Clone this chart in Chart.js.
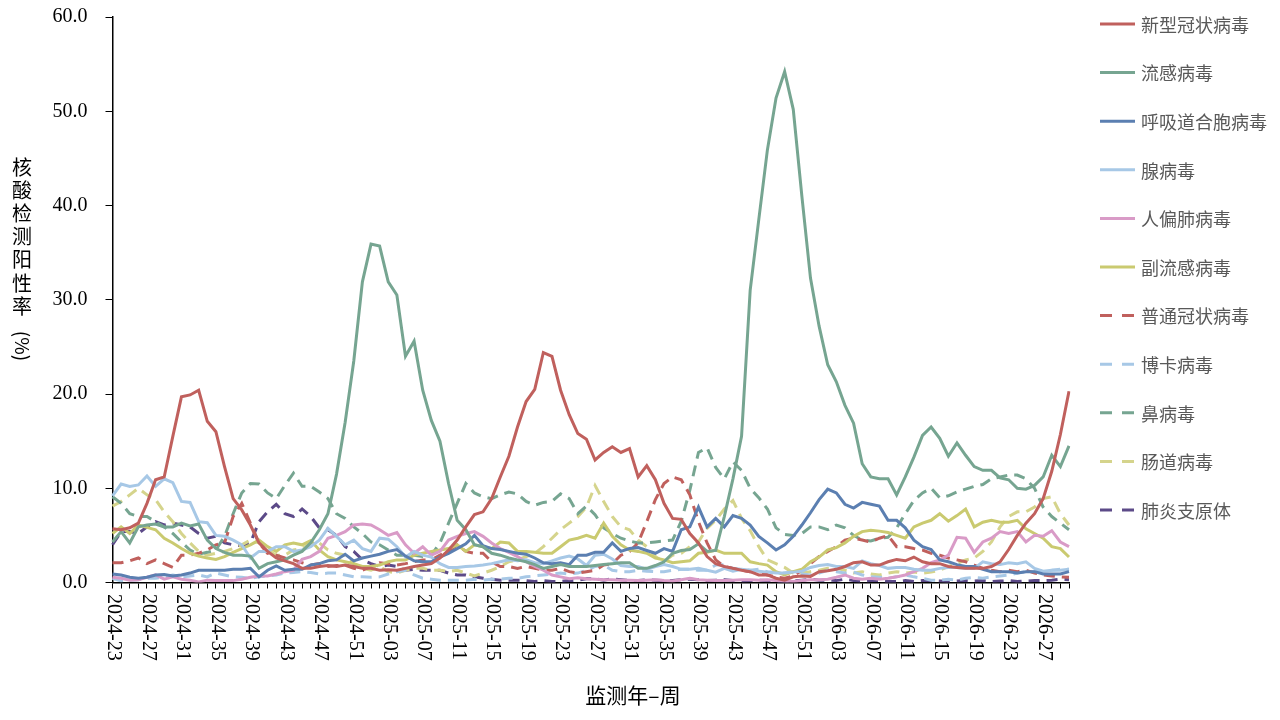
<!DOCTYPE html>
<html>
<head>
<meta charset="utf-8">
<script src="https://cdn.jsdelivr.net/npm/chart.js@4.4.1/dist/chart.umd.min.js"></script>
<style>
html, body { margin: 0; padding: 0; background: #fff; }
#wrap { width: 1280px; height: 720px; position: relative; }
</style>
</head>
<body>
<div id="wrap"><canvas id="chart1"></canvas></div>
<script>
// week labels (year-week)
var weeks = [
  '2024-23','2024-24','2024-25','2024-26','2024-27','2024-28','2024-29','2024-30','2024-31','2024-32',
  '2024-33','2024-34','2024-35','2024-36','2024-37','2024-38','2024-39','2024-40','2024-41','2024-42',
  '2024-43','2024-44','2024-45','2024-46','2024-47','2024-48','2024-49','2024-50','2024-51','2024-52',
  '2025-01','2025-02','2025-03','2025-04','2025-05','2025-06','2025-07','2025-08','2025-09','2025-10',
  '2025-11','2025-12','2025-13','2025-14','2025-15','2025-16','2025-17','2025-18','2025-19','2025-20',
  '2025-21','2025-22','2025-23','2025-24','2025-25','2025-26','2025-27','2025-28','2025-29','2025-30',
  '2025-31','2025-32','2025-33','2025-34','2025-35','2025-36','2025-37','2025-38','2025-39','2025-40',
  '2025-41','2025-42','2025-43','2025-44','2025-45','2025-46','2025-47','2025-48','2025-49','2025-50',
  '2025-51','2025-52','2026-01','2026-02','2026-03','2026-04','2026-05','2026-06','2026-07','2026-08',
  '2026-09','2026-10','2026-11','2026-12','2026-13','2026-14','2026-15','2026-16','2026-17','2026-18',
  '2026-19','2026-20','2026-21','2026-22','2026-23','2026-24','2026-25','2026-26','2026-27','2026-28',
  '2026-29','2026-30'
];

var covid = [5.7,5.6,5.8,6.3,8.4,10.9,11.2,15.5,19.7,19.9,
  20.4,17.1,16.0,12.3,8.9,7.7,6.1,4.2,3.3,2.6,
  2.3,2.0,1.5,1.5,1.7,1.8,1.7,1.85,1.7,1.5,
  1.5,1.3,1.35,1.3,1.5,1.7,1.85,2.0,2.6,3.45,
  4.5,5.9,7.2,7.5,8.9,11.2,13.4,16.5,19.2,20.5,
  24.4,24.0,20.4,17.8,15.8,15.2,13.0,13.8,14.4,13.8,
  14.2,11.2,12.4,10.9,8.4,6.8,6.7,5.2,4.2,2.75,
  2.0,1.7,1.5,1.3,1.15,0.8,0.8,0.45,0.25,0.6,
  0.7,0.65,1.15,1.25,1.4,1.7,2.1,2.2,1.85,1.85,
  2.2,2.45,2.3,2.7,2.2,2.0,2.0,1.7,1.6,1.5,
  1.5,1.5,1.7,2.2,3.5,5.0,6.3,7.3,8.9,11.8,
  15.7,20.3];

var flu = [4.3,5.4,4.2,5.9,6.1,6.2,5.9,5.9,6.3,6.0,
  6.2,4.5,3.6,3.2,2.9,2.9,2.8,1.5,2.0,2.2,
  2.4,2.9,3.3,4.2,5.6,7.3,11.5,17.0,23.5,31.9,
  35.9,35.7,31.9,30.5,24.0,25.6,20.4,17.2,15.0,10.5,
  6.6,5.6,4.0,3.8,3.1,2.9,2.6,2.4,2.2,1.9,
  1.5,1.7,1.9,1.7,1.7,1.7,1.8,1.9,2.0,2.1,
  2.1,1.5,1.5,1.8,2.2,3.1,3.4,3.5,4.1,3.3,
  3.4,7.0,11.0,15.5,31.0,38.5,45.9,51.4,54.2,50.2,
  41.0,32.3,27.2,23.1,21.3,18.8,16.9,12.6,11.2,11.0,
  11.0,9.3,11.2,13.3,15.6,16.5,15.3,13.4,14.8,13.5,
  12.3,11.9,11.9,11.1,10.9,10.0,9.9,10.3,11.2,13.5,
  12.3,14.5];

var rsv = [0.9,0.8,0.55,0.45,0.55,0.8,0.85,0.7,0.8,1.0,
  1.3,1.3,1.3,1.3,1.4,1.4,1.5,0.6,1.3,1.75,
  1.3,1.4,1.4,1.85,2.0,2.3,2.4,3.0,2.3,2.6,
  2.8,3.0,3.3,3.5,2.8,2.3,2.2,2.2,2.7,3.1,
  3.6,4.1,5.0,3.9,3.6,3.5,3.3,3.1,3.0,2.6,
  2.1,2.0,2.1,1.9,2.9,2.9,3.2,3.2,4.2,3.3,
  3.6,3.7,3.4,3.1,3.6,3.3,5.6,5.9,8.0,5.9,
  6.8,5.9,7.1,6.8,6.1,4.9,4.2,3.45,4.0,4.9,
  6.1,7.4,8.8,9.9,9.5,8.3,7.9,8.5,8.3,8.1,
  6.6,6.6,5.8,4.5,3.8,3.5,2.4,2.2,1.9,1.7,
  1.7,1.4,1.15,1.15,1.15,1.0,1.15,1.15,0.9,0.9,
  0.9,1.15];

var adeno = [9.2,10.45,10.2,10.35,11.3,10.2,11.0,10.6,8.6,8.5,
  6.45,6.35,5.0,4.9,4.5,4.0,2.6,3.3,3.3,3.8,
  3.8,3.3,3.45,3.8,4.5,5.75,4.9,4.0,4.5,3.6,
  3.3,4.7,4.6,3.8,2.7,3.3,2.9,2.7,2.0,1.6,
  1.6,1.7,1.75,1.85,2.0,2.2,2.4,2.3,2.4,2.1,
  2.0,2.3,2.6,2.8,2.5,1.8,2.9,3.0,2.5,1.8,
  1.7,1.7,1.4,1.7,1.9,1.7,1.4,1.4,1.5,1.3,
  1.1,1.5,1.2,1.4,1.3,1.2,1.1,1.0,1.0,1.1,
  1.2,1.6,1.8,1.9,1.7,1.7,1.5,2.3,2.0,1.8,
  1.5,1.6,1.6,1.4,1.3,1.3,1.5,1.6,1.6,1.5,
  1.5,2.2,2.0,1.9,2.1,2.0,2.2,1.5,1.2,1.3,
  1.3,1.4];

var hmpv = [0.55,0.45,0.25,0.3,0.55,0.8,0.35,0.6,0.35,0.25,
  0.05,0.25,0.2,0.2,0.2,0.35,0.55,0.7,0.7,0.9,
  1.15,1.3,2.45,2.75,3.3,4.7,5.0,5.4,6.1,6.2,
  6.1,5.6,5.0,5.3,4.0,3.1,3.8,2.9,3.3,4.5,
  4.9,5.2,5.4,4.9,4.2,3.6,3.2,2.75,2.2,1.7,
  1.3,0.8,0.6,0.4,0.5,0.4,0.35,0.3,0.3,0.25,
  0.25,0.2,0.25,0.3,0.2,0.15,0.3,0.45,0.3,0.25,
  0.2,0.2,0.25,0.3,0.3,0.25,0.3,0.2,0.15,0.1,
  0.2,0.3,0.3,0.35,0.55,0.8,0.45,0.35,0.45,0.35,
  0.45,0.6,0.8,1.15,1.5,2.1,2.4,2.9,4.8,4.7,
  3.2,4.3,4.7,5.4,5.2,5.4,4.3,5.0,4.9,5.5,
  4.3,3.8];

var paraflu = [5.2,5.9,5.2,6.1,5.85,5.6,4.7,4.2,3.6,3.1,
  2.8,2.6,2.45,2.75,3.2,3.6,4.0,4.5,3.8,3.3,
  4.0,4.2,4.0,4.45,3.45,2.75,2.4,2.2,2.0,1.7,
  1.7,1.85,2.2,2.4,2.4,2.9,3.1,3.3,3.45,3.6,
  4.0,3.3,4.0,3.8,3.6,4.3,4.2,3.3,3.3,3.2,
  3.1,3.1,3.8,4.5,4.7,5.0,4.7,6.3,4.9,4.0,
  3.45,3.3,3.1,2.6,2.4,2.1,2.2,2.3,3.1,3.2,
  3.45,3.1,3.1,3.1,2.2,2.0,1.85,1.15,0.8,1.15,
  1.4,2.2,2.7,3.45,3.7,4.2,4.9,5.4,5.55,5.45,
  5.3,5.0,4.7,5.9,6.3,6.6,7.3,6.5,7.1,7.8,
  5.9,6.4,6.6,6.4,6.4,6.6,5.7,5.2,4.7,3.8,
  3.6,2.7];

var hcov = [2.1,2.1,2.3,2.6,2.0,2.4,2.0,1.6,2.9,2.9,
  3.1,3.45,4.0,4.2,7.0,8.4,6.3,4.2,3.1,2.9,
  2.6,2.4,2.1,1.85,2.0,1.7,1.8,1.85,1.5,1.3,
  1.7,2.1,2.0,1.85,2.0,2.2,2.4,2.4,2.9,3.3,
  4.0,3.3,3.1,3.1,2.2,1.7,1.7,1.5,1.7,1.5,
  1.3,1.3,1.5,1.15,1.0,1.15,1.3,1.85,2.0,2.9,
  3.3,4.2,6.45,8.8,10.5,11.2,10.9,9.3,6.45,4.2,
  2.4,1.7,1.5,1.3,1.15,1.15,0.8,0.6,0.45,0.7,
  1.3,2.0,2.75,3.3,3.8,4.5,4.7,4.5,4.3,4.7,
  5.0,3.8,3.8,3.6,3.45,3.1,2.9,2.6,2.4,2.2,
  1.85,1.5,1.3,1.15,1.3,1.15,1.3,1.0,0.8,0.7,
  0.6,0.55];

var boca = [0.45,0.15,0.25,0.3,0.45,0.45,0.6,0.8,0.6,0.7,
  0.8,0.6,1.0,0.8,0.6,0.55,0.45,0.6,0.7,0.8,
  1.0,1.05,1.15,1.05,0.9,1.0,1.0,0.8,0.6,0.6,
  0.55,0.6,0.9,1.15,1.3,0.8,0.45,0.35,0.25,0.25,
  0.25,0.25,0.35,0.25,0.35,0.35,0.45,0.45,0.6,0.7,
  0.8,0.9,1.0,0.9,1.0,1.3,1.7,1.85,1.3,1.15,
  1.15,1.3,1.2,1.15,1.15,1.3,1.4,1.4,1.3,1.3,
  1.85,1.9,1.5,1.4,1.3,1.4,1.15,1.05,1.0,1.15,
  0.9,0.8,1.0,1.3,1.15,1.0,1.1,0.8,0.6,0.55,
  0.45,0.6,0.8,0.6,0.45,0.25,0.25,0.35,0.25,0.45,
  0.55,0.45,0.6,0.7,0.8,1.0,1.15,1.15,1.25,1.3,
  1.4,1.4];

var rhino = [9.1,8.4,7.3,7.0,7.0,6.45,5.9,5.2,4.3,3.45,
  3.0,3.2,3.45,4.9,7.3,9.5,10.5,10.45,9.5,8.9,
  10.3,11.6,10.2,10.2,9.6,8.9,7.3,6.8,5.9,5.2,
  4.3,4.0,3.45,2.9,2.9,2.9,2.75,2.9,4.2,6.3,
  8.4,10.5,9.5,9.1,8.9,9.3,9.6,9.4,8.6,8.2,
  8.5,8.6,9.4,8.9,7.3,8.1,7.2,5.8,5.2,4.7,
  4.4,4.2,4.2,4.3,4.4,4.5,6.5,9.8,13.8,14.3,
  12.2,11.0,12.8,11.9,10.0,9.0,7.8,5.8,5.1,5.0,
  5.2,5.9,5.9,5.6,6.1,5.8,5.0,4.5,4.4,4.7,
  4.8,5.8,7.3,8.7,9.5,10.0,9.0,9.2,9.6,9.9,
  10.2,10.4,11.0,11.2,11.4,11.4,11.0,10.0,8.0,7.0,
  6.3,5.6];

var entero = [8.1,8.6,9.3,10.0,9.3,8.8,7.5,6.45,5.2,4.2,
  3.3,2.9,3.1,3.3,3.6,4.0,4.5,4.2,3.45,2.9,
  2.9,3.45,3.6,4.2,4.2,3.45,3.1,2.9,2.0,1.5,
  1.3,1.7,1.15,1.0,1.3,1.5,1.5,1.3,1.3,1.15,
  1.3,1.0,0.7,1.0,1.3,1.7,2.2,2.4,2.75,3.1,
  3.8,4.7,5.6,6.3,7.0,8.0,10.3,8.6,7.0,5.9,
  5.6,4.5,3.8,2.75,2.2,2.9,3.1,3.8,4.3,5.75,
  6.6,7.8,8.7,6.8,5.5,3.8,2.4,2.0,1.6,1.0,
  1.0,1.15,1.3,1.5,1.5,1.3,1.0,1.15,0.9,0.8,
  1.0,1.15,1.0,1.1,1.0,1.1,1.3,1.7,2.0,2.4,
  2.6,3.3,4.3,5.9,7.0,7.5,7.5,8.0,8.9,9.1,
  7.3,6.1];

var mycoplasma = [4.0,5.4,5.4,5.2,5.9,6.45,6.1,6.3,6.1,5.9,
  5.2,4.7,4.9,4.2,4.0,3.9,4.2,6.45,7.5,8.3,
  7.3,7.0,7.8,7.0,5.8,5.6,5.0,3.8,3.3,2.4,
  2.0,1.7,1.85,1.7,1.3,1.4,1.3,1.3,1.3,1.0,
  0.8,0.8,0.6,0.45,0.35,0.25,0.25,0.25,0.2,0.1,
  0.2,0.1,0.1,0.2,0.25,0.4,0.4,0.25,0.4,0.3,
  0.2,0.2,0.3,0.25,0.2,0.2,0.3,0.35,0.3,0.2,
  0.25,0.3,0.2,0.15,0.2,0.25,0.2,0.15,0.1,0.15,
  0.25,0.35,0.25,0.25,0.2,0.35,0.2,0.1,0.2,0.2,
  0.1,0.1,0.2,0.1,0.2,0.2,0.15,0.1,0.15,0.2,
  0.15,0.2,0.1,0.15,0.2,0.1,0.15,0.2,0.2,0.25,
  0.35,0.3];

var seriesNames = ['新型冠状病毒', '流感病毒', '呼吸道合胞病毒', '腺病毒', '人偏肺病毒', '副流感病毒',
  '普通冠状病毒', '博卡病毒', '鼻病毒', '肠道病毒', '肺炎支原体'];
var seriesColors = ['#C0605D', '#76A591', '#5B7FB1', '#A7C8E6', '#D99BC7', '#CACA70',
  '#C0605D', '#A7C8E6', '#76A591', '#D5D48C', '#5C4A88'];
var seriesData = [covid, flu, rsv, adeno, hmpv, paraflu, hcov, boca, rhino, entero, mycoplasma];
var dashedFrom = 6;

var yTitle = '核酸检测阳性率';
var yUnit = '(%)';
var xTitle = '监测年–周';

var serif = '"Liberation Serif", "Times New Roman", serif';
var cjk = '"Noto Sans CJK SC", "Noto Sans", sans-serif';

var datasets = [];
for (var i = 0; i < seriesNames.length; i++) {
  datasets.push({
    label: seriesNames[i],
    data: seriesData[i],
    borderColor: seriesColors[i],
    backgroundColor: seriesColors[i],
    borderWidth: 3,
    borderDash: i >= dashedFrom ? [11, 7] : [],
    pointRadius: 0,
    pointHoverRadius: 0,
    tension: 0,
    fill: false
  });
}

// x labels (rotated clockwise), y title stacked, x title and legend
var textPlugin = {
  id: 'textPlugin',
  afterDraw: function (chart) {
    var ctx = chart.ctx;
    var xScale = chart.scales.x;
    ctx.save();
    ctx.fillStyle = '#000';
    ctx.font = '20px ' + serif;
    ctx.textAlign = 'left';
    ctx.textBaseline = 'middle';
    for (var i = 0; i < weeks.length; i += 4) {
      var x = xScale.getPixelForValue(i);
      ctx.save();
      ctx.translate(x + 1, 594);
      ctx.rotate(Math.PI / 2);
      ctx.fillText(weeks[i], 0, 0);
      ctx.restore();
    }

    ctx.font = '20px ' + cjk;
    ctx.textAlign = 'center';
    for (var k = 0; k < yTitle.length; k++) {
      ctx.fillText(yTitle[k], 22, 167 + k * 23.2);
    }
    ctx.save();
    ctx.translate(22, 346);
    ctx.rotate(Math.PI / 2);
    ctx.font = '19px ' + cjk;
    ctx.fillText(yUnit, 0, 0);
    ctx.restore();

    ctx.font = '21px ' + cjk;
    ctx.fillText(xTitle, 633, 695);

    // legend
    ctx.textAlign = 'left';
    ctx.font = '18px ' + cjk;
    chart.data.datasets.forEach(function (ds, j) {
      var y = 24 + j * 48.6;
      ctx.beginPath();
      ctx.lineWidth = 3;
      ctx.strokeStyle = ds.borderColor;
      ctx.setLineDash(ds.borderDash.length ? [12, 10] : []);
      ctx.moveTo(1100, y);
      ctx.lineTo(1135, y);
      ctx.stroke();
      ctx.fillStyle = '#595959';
      ctx.fillText(ds.label, 1141, y + 1);
    });
    ctx.restore();
  }
};

var ctx1 = document.getElementById('chart1').getContext('2d');
var myChart1 = new Chart(ctx1, {
  type: 'line',
  data: {
    labels: weeks,
    datasets: datasets
  },
  options: {
    responsive: true,
    maintainAspectRatio: false,
    animation: false,
    layout: {
      padding: { left: 0, right: 211, top: 17, bottom: 0 }
    },
    plugins: {
      legend: { display: false },
      tooltip: { enabled: false }
    },
    scales: {
      x: {
        type: 'category',
        offset: false,
        grid: {
          display: true,
          drawOnChartArea: false,
          drawTicks: true,
          tickLength: 6,
          color: '#000',
          lineWidth: 1
        },
        border: { display: true, color: '#000', width: 1.5 },
        ticks: { display: false, autoSkip: false },
        afterFit: function (scale) {
          scale.height = 137.5;
          scale.paddingLeft = 0;
          scale.paddingRight = 0;
        }
      },
      y: {
        min: 0,
        max: 60,
        ticks: {
          stepSize: 10,
          color: '#000',
          padding: 18,
          font: { family: serif, size: 20 },
          callback: function (v) { return v.toFixed(1); }
        },
        grid: {
          drawOnChartArea: false,
          drawTicks: true,
          tickLength: 7,
          color: '#000'
        },
        border: { display: true, color: '#000', width: 1.5 },
        afterFit: function (scale) {
          scale.width = 112.5;
          scale.paddingTop = 0;
          scale.paddingBottom = 0;
        }
      }
    }
  },
  plugins: [textPlugin]
});
</script>
</body>
</html>
